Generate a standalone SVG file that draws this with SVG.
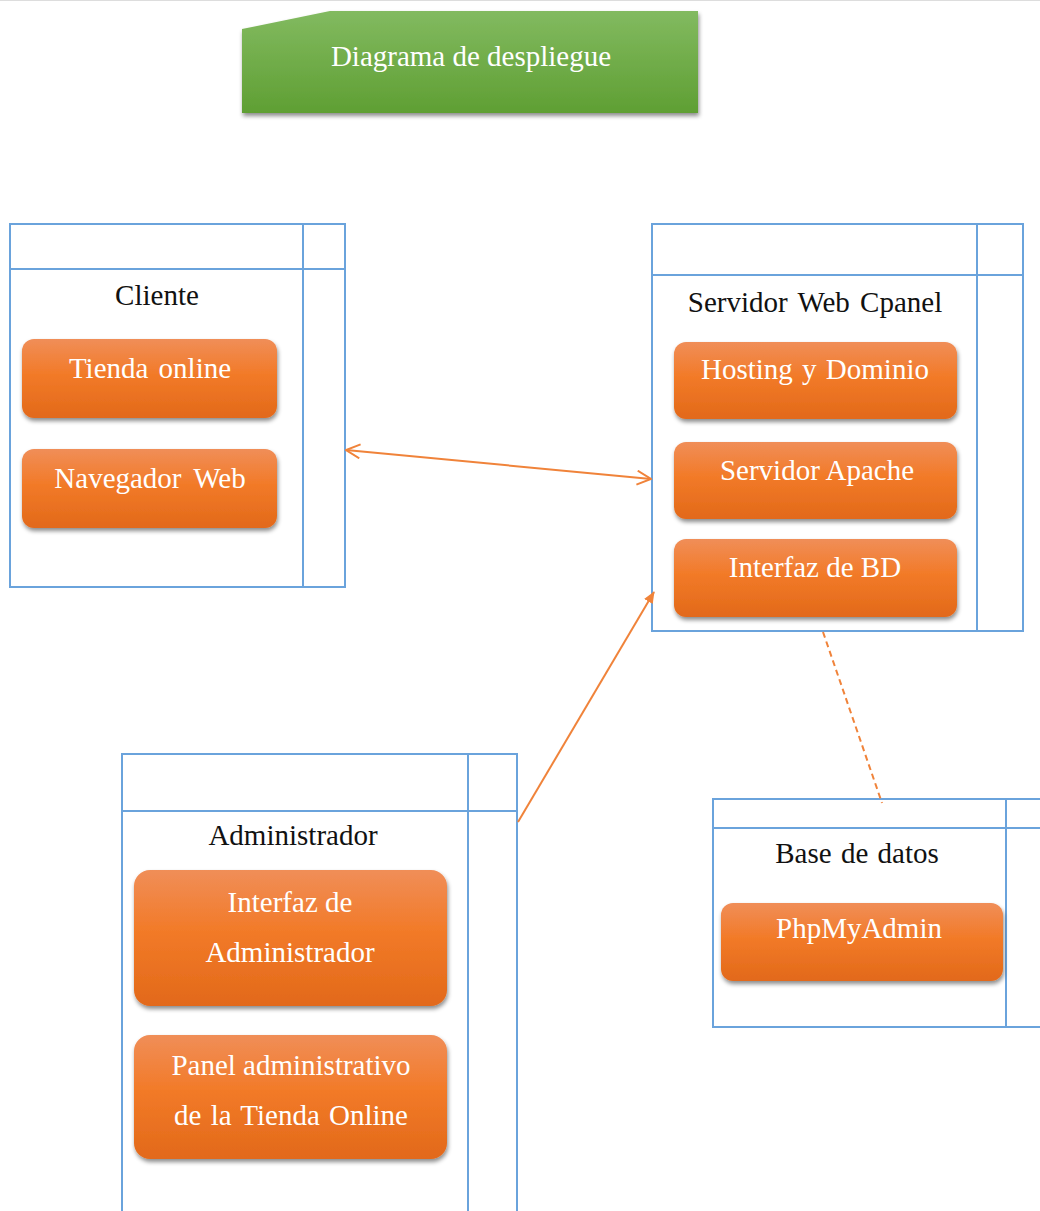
<svg xmlns="http://www.w3.org/2000/svg" width="1040" height="1211" viewBox="0 0 1040 1211">
  <defs>
    <linearGradient id="gTitle" x1="0" y1="0" x2="0" y2="1">
      <stop offset="0" stop-color="#82ba60"/>
      <stop offset="1" stop-color="#5f9f33"/>
    </linearGradient>
    <linearGradient id="gBtn" x1="0" y1="0" x2="0" y2="1">
      <stop offset="0" stop-color="#f08e58"/>
      <stop offset="0.45" stop-color="#f27a28"/>
      <stop offset="1" stop-color="#e2691a"/>
    </linearGradient>
    <filter id="shadow" x="-10%" y="-10%" width="125%" height="140%">
      <feDropShadow dx="1" dy="3" stdDeviation="2" flood-color="#000" flood-opacity="0.45"/>
    </filter>
    <marker id="openArrow" viewBox="0 0 16 16" refX="15" refY="8" markerWidth="16" markerHeight="16" markerUnits="userSpaceOnUse" orient="auto-start-reverse">
      <path d="M1,1 L15,8 L1,15" fill="none" stroke="#f0833a" stroke-width="2"/>
    </marker>
    <marker id="solidArrow" viewBox="0 0 12 12" refX="11" refY="6" markerWidth="12" markerHeight="12" markerUnits="userSpaceOnUse" orient="auto">
      <path d="M0,1 L12,6 L0,11 Z" fill="#f0833a"/>
    </marker>
  </defs>
  <style>
    .frame { fill: none; stroke: #6aa3dc; stroke-width: 2; }
    .btn { fill: url(#gBtn); filter: url(#shadow); }
    text { font-family: 'Liberation Serif', 'Times New Roman', Times, serif; font-size: 29px; text-anchor: middle; }
    .label { fill: #111111; }
    .btnText { fill: #ffffff; }
    .conn { fill: none; stroke: #f0833a; stroke-width: 2; }
  </style>

  <rect width="1040" height="1211" fill="#ffffff"/>
  <line x1="0" y1="0.5" x2="1040" y2="0.5" stroke="#dddddd" stroke-width="1"/>

  <!-- title banner -->
  <g id="title">
    <polygon points="242,29 330,11 698,11 698,113 242,113" fill="url(#gTitle)" filter="url(#shadow)"/>
    <text class="btnText" x="471" y="66">Diagrama de despliegue</text>
  </g>

  <!-- node: Cliente -->
  <g id="cliente">
    <rect class="frame" x="10" y="224" width="335" height="363"/>
    <line class="frame" x1="10" y1="269" x2="345" y2="269"/>
    <line class="frame" x1="303" y1="224" x2="303" y2="587"/>
    <text class="label" x="157" y="305">Cliente</text>
    <g id="tienda-online">
      <rect class="btn" x="22" y="339" width="255" height="79" rx="12"/>
      <text class="btnText" x="150" y="378" word-spacing="3">Tienda online</text>
    </g>
    <g id="navegador-web">
      <rect class="btn" x="22" y="449" width="255" height="79" rx="12"/>
      <text class="btnText" x="150" y="488" word-spacing="5">Navegador Web</text>
    </g>
  </g>

  <!-- node: Servidor Web Cpanel -->
  <g id="servidor">
    <rect class="frame" x="652" y="224" width="371" height="407"/>
    <line class="frame" x1="652" y1="275" x2="1023" y2="275"/>
    <line class="frame" x1="977" y1="224" x2="977" y2="631"/>
    <text class="label" x="815" y="312" word-spacing="3">Servidor Web Cpanel</text>
    <g id="hosting">
      <rect class="btn" x="674" y="342" width="283" height="77" rx="12"/>
      <text class="btnText" x="815" y="379" word-spacing="2">Hosting y Dominio</text>
    </g>
    <g id="apache">
      <rect class="btn" x="674" y="442" width="283" height="77" rx="12"/>
      <text class="btnText" x="817" y="480">Servidor Apache</text>
    </g>
    <g id="interfaz-bd">
      <rect class="btn" x="674" y="539" width="283" height="78" rx="12"/>
      <text class="btnText" x="815" y="577">Interfaz de BD</text>
    </g>
  </g>

  <!-- node: Administrador -->
  <g id="administrador">
    <rect class="frame" x="122" y="754" width="395" height="470"/>
    <line class="frame" x1="122" y1="811" x2="517" y2="811"/>
    <line class="frame" x1="468" y1="754" x2="468" y2="1224"/>
    <text class="label" x="293" y="845">Administrador</text>
    <g id="interfaz-admin">
      <rect class="btn" x="134" y="870" width="313" height="136" rx="16"/>
      <text class="btnText" x="290" y="912">Interfaz de</text>
      <text class="btnText" x="290" y="962">Administrador</text>
    </g>
    <g id="panel-admin">
      <rect class="btn" x="134" y="1035" width="313" height="124" rx="16"/>
      <text class="btnText" x="291" y="1075">Panel administrativo</text>
      <text class="btnText" x="291" y="1125" word-spacing="2">de la Tienda Online</text>
    </g>
  </g>

  <!-- node: Base de datos -->
  <g id="base-datos">
    <rect class="frame" x="713" y="799" width="340" height="228"/>
    <line class="frame" x1="713" y1="828" x2="1053" y2="828"/>
    <line class="frame" x1="1006" y1="799" x2="1006" y2="1027"/>
    <text class="label" x="857" y="863" word-spacing="2">Base de datos</text>
    <g id="phpmyadmin">
      <rect class="btn" x="721" y="903" width="282" height="78" rx="12"/>
      <text class="btnText" x="859" y="938">PhpMyAdmin</text>
    </g>
  </g>

  <!-- connectors -->
  <g id="connectors">
    <line class="conn" x1="346" y1="450" x2="651" y2="479" marker-start="url(#openArrow)" marker-end="url(#openArrow)"/>
    <line class="conn" x1="518" y1="822" x2="654" y2="592" marker-end="url(#solidArrow)"/>
    <line class="conn" x1="823" y1="632" x2="882" y2="803" stroke-dasharray="6 4"/>
  </g>
</svg>
